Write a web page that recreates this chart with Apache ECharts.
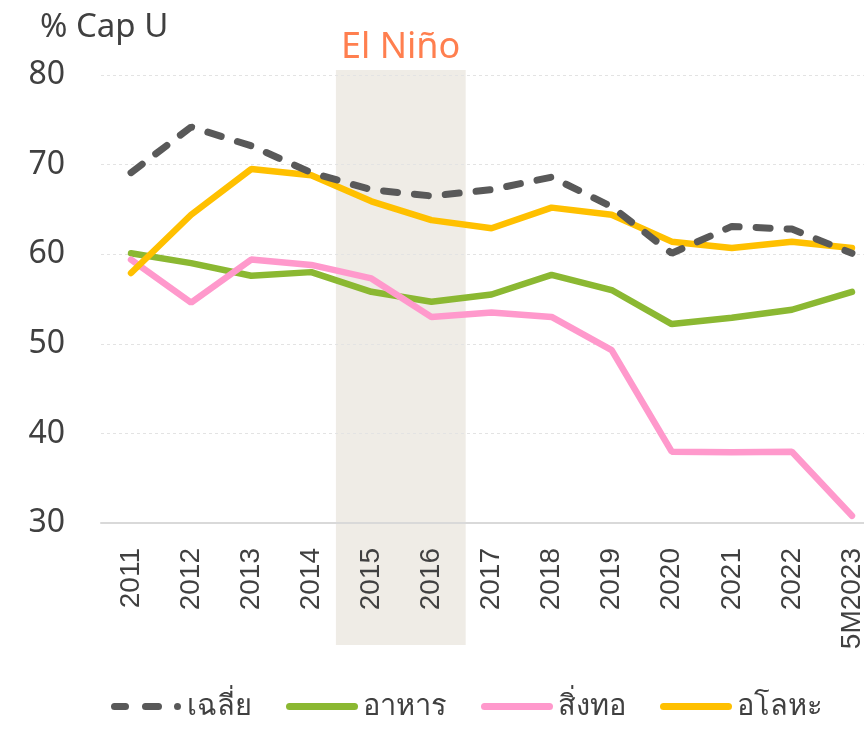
<!DOCTYPE html>
<html><head><meta charset="utf-8">
<script src="https://cdn.jsdelivr.net/npm/echarts@6/dist/echarts.min.js"></script>
<style>html,body{margin:0;padding:0;background:#fff}#c{width:864px;height:730px}</style>
</head><body><div id="c"></div>
<script>
const categories = ['2011','2012','2013','2014','2015','2016','2017','2018','2019','2020','2021','2022','5M2023'];
const avgValues     = [69.1, 74.2, 72.1, 69.1, 67.2, 66.5, 67.2, 68.6, 65.3, 60.1, 63.1, 62.8, 60.1];
const foodValues    = [60.1, 59.0, 57.6, 58.0, 55.8, 54.7, 55.5, 57.7, 56.0, 52.2, 52.9, 53.8, 55.8];
const textileValues = [59.4, 54.6, 59.4, 58.8, 57.3, 53.0, 53.5, 53.0, 49.3, 37.96, 37.9, 37.96, 30.8];
const nonMetalValues= [57.9, 64.4, 69.5, 68.8, 65.9, 63.8, 62.9, 65.2, 64.4, 61.4, 60.7, 61.4, 60.7];
const yTicks = [30, 40, 50, 60, 70, 80];
const seriesNames = ['เฉลี่ย', 'อาหาร', 'สิ่งทอ', 'อโลหะ'];
const ninoStart = '2015', ninoEnd = '2016';

const txt = '#404040';
const chart = echarts.init(document.getElementById('c'));
const font = "'Noto Sans', 'DejaVu Sans', sans-serif";
const pill = 'path://M3.5,0 H68.5 A3.5,3.5 0 0 1 68.5,7 H3.5 A3.5,3.5 0 0 1 3.5,0 Z';
const dashIcon = 'path://M3.5,0 H14.5 A3.5,3.5 0 0 1 14.5,7 H3.5 A3.5,3.5 0 0 1 3.5,0 Z M34.5,0 H47.5 A3.5,3.5 0 0 1 47.5,7 H34.5 A3.5,3.5 0 0 1 34.5,0 Z M66.5,0 A3.5,3.5 0 0 1 66.5,7 A3.5,3.5 0 0 1 66.5,0 Z';
const colors = ['#595959', '#8BB832', '#FF99CC', '#FFC000'];
const option = {
  animation: false,
  grid: { left: 101, top: 75, width: 781, height: 448, outerBoundsMode: 'none', containLabel: false },
  title: [
    { text: '% Cap U', left: 35, top: 6, textStyle: { fontSize: 33, fontWeight: 'normal', color: txt, fontFamily: font } },
    { text: 'El Niño', left: 336, top: 25, textStyle: { fontSize: 36, fontWeight: 'normal', color: '#FF7F4F', fontFamily: font } }
  ],
  legend: {
    bottom: 4, left: 106, itemWidth: 72, itemHeight: 7, itemGap: 34,
    textStyle: { fontSize: 29, color: txt, fontFamily: font },
    data: [
      { name: seriesNames[0], icon: dashIcon, itemStyle: { color: colors[0] } },
      { name: seriesNames[1], icon: pill, itemStyle: { color: colors[1] } },
      { name: seriesNames[2], icon: pill, itemStyle: { color: colors[2] } },
      { name: seriesNames[3], icon: pill, itemStyle: { color: colors[3] } }
    ]
  },
  xAxis: {
    type: 'category', data: categories, boundaryGap: true,
    axisLine: { lineStyle: { color: '#d9d9d9', width: 2 } },
    axisTick: { show: false },
    axisLabel: { rotate: 90, margin: 25, fontSize: 28, color: txt, fontFamily: "'Liberation Sans', Arial, sans-serif", interval: 0 }
  },
  yAxis: {
    type: 'value', min: 30, max: 80, interval: 10,
    axisLine: { show: false }, axisTick: { show: false },
    axisLabel: { margin: 36, fontSize: 32, color: txt, fontFamily: font,
      formatter: v => yTicks.includes(v) ? String(v) : '' },
    splitLine: { lineStyle: { color: '#e3e3e3', type: [3, 3], width: 1 } }
  },
  series: [
    { name: seriesNames[0], type: 'line', data: avgValues, symbol: 'none', z: 5,
      lineStyle: { color: colors[0], width: 7, type: [14, 17], cap: 'round' }, itemStyle: { color: colors[0] } },
    { name: seriesNames[1], type: 'line', data: foodValues, symbol: 'none',
      lineStyle: { color: colors[1], width: 6.5, cap: 'round' }, itemStyle: { color: colors[1] } },
    { name: seriesNames[2], type: 'line', data: textileValues, symbol: 'none',
      lineStyle: { color: colors[2], width: 6.5, cap: 'round' }, itemStyle: { color: colors[2] } },
    { name: seriesNames[3], type: 'line', data: nonMetalValues, symbol: 'none', z: 4,
      lineStyle: { color: colors[3], width: 6.5, cap: 'round' }, itemStyle: { color: colors[3] } }
  ]
};
chart.setOption(option);
const bw = 781 / categories.length;
const x1 = chart.convertToPixel({ xAxisIndex: 0 }, ninoStart) - 0.59 * bw;
const x2 = chart.convertToPixel({ xAxisIndex: 0 }, ninoEnd) + 0.57 * bw;
const yTop = chart.convertToPixel({ yAxisIndex: 0 }, 80) - 5;
chart.setOption({ graphic: [{ type: 'rect', z: -10, silent: true,
  shape: { x: x1, y: yTop, width: x2 - x1, height: 645 - yTop },
  style: { fill: '#EFECE6' } }] });
</script></body></html>
